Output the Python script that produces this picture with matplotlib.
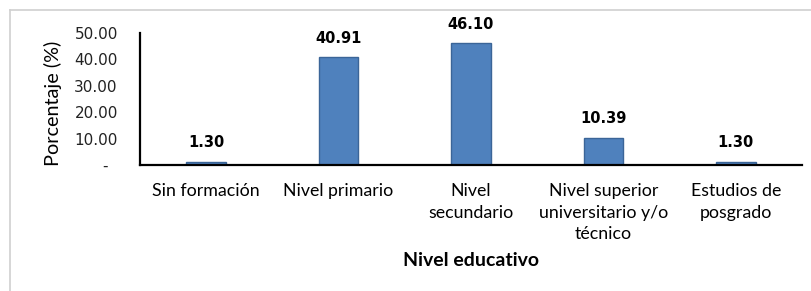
import matplotlib
matplotlib.use("Agg")
import matplotlib.pyplot as plt
from matplotlib.lines import Line2D

# datos
categorias = ["Sin formación", "Nivel primario", "Nivel\nsecundario",
              "Nivel superior\nuniversitario y/o\ntécnico", "Estudios de\nposgrado"]
porcentajes = [1.30, 40.91, 46.10, 10.39, 1.30]
yticks = [0, 10, 20, 30, 40, 50]
ytick_labels = ["-  ", "10.00", "20.00", "30.00", "40.00", "50.00"]

W, H = 811, 291
fig = plt.figure(figsize=(W / 100, H / 100), dpi=100)
ax = fig.add_axes([140 / W, 1 - 165 / H, (802 - 140) / W, (165 - 33) / H])

x = range(len(categorias))
bars = ax.bar(x, porcentajes, width=0.30, color="#4F81BD", edgecolor="#3B6598", linewidth=1)

# etiquetas de valor
for b, v in zip(bars, porcentajes):
    ax.annotate("%.2f" % v, (b.get_x() + b.get_width() / 2, v), xytext=(0, 8),
                textcoords="offset points", ha="center", va="bottom",
                fontsize=10.5, fontweight="bold", family="DejaVu Sans")

ax.set_xlim(-0.5, len(categorias) - 0.5)
ax.set_ylim(0, 50)
ax.set_yticks(yticks)
ax.set_yticklabels(ytick_labels, fontsize=11, family="DejaVu Sans", color="#222222")
ax.set_xticks(list(x))
ax.set_xticklabels(categorias, fontsize=12.8, family="Lato", linespacing=1.42)
ax.tick_params(axis="both", length=0)
ax.tick_params(axis="y", pad=16)
ax.tick_params(axis="x", pad=13)

for s in ["top", "right"]:
    ax.spines[s].set_visible(False)
for s in ["left", "bottom"]:
    ax.spines[s].set_linewidth(1.6)
    ax.spines[s].set_color("black")

ax.set_ylabel("Porcentaje (%)", fontsize=14.3, family="Lato", va="center")
ax.yaxis.set_label_coords(-87 / (802 - 140), 0.47)
ax.set_xlabel("Nivel educativo", fontsize=14, family="Lato", fontweight="bold")
ax.xaxis.set_label_coords(0.5, -(261 - 165) / (165 - 33))
ax.xaxis.label.set_va("center")

# borde gris del area del grafico
fig.add_artist(Line2D([10 / W, 1], [1 - 10 / H, 1 - 10 / H], color="#d0d0d0", lw=1.2))
fig.add_artist(Line2D([10 / W, 10 / W], [0, 1 - 10 / H], color="#d0d0d0", lw=1.2))

fig.savefig("out.png", dpi=100)
